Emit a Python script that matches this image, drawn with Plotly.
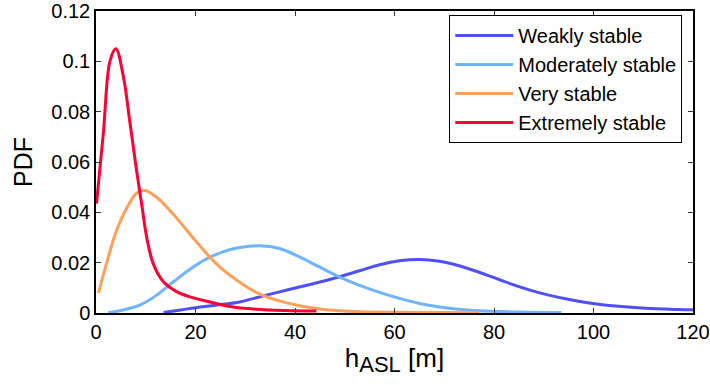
import plotly.graph_objects as go

# Probability density curves of the surface-layer height for four stability classes
weak_x = [13.6, 17, 20, 24, 28.9, 32.9, 36.9, 40.9, 45, 49, 53, 57, 61, 65, 69, 73, 77,
          81, 85, 89, 93, 97, 101, 105, 109, 113, 117, 120]
weak_y = [0.0002, 0.0012, 0.0021, 0.0031, 0.0044, 0.0064, 0.0084, 0.0103, 0.0123, 0.0144,
          0.0168, 0.0192, 0.0208, 0.0213, 0.0206, 0.0188, 0.0162, 0.0133, 0.0105, 0.0081,
          0.0062, 0.0047, 0.0035, 0.0027, 0.0021, 0.0017, 0.0014, 0.0013]

moderate_x = [2.5, 5.5, 8.8, 12.2, 15.5, 18.9, 22.2, 25.5, 28.9, 32.9, 36.9, 40.9, 45, 49,
              53, 57, 61, 65, 69, 73, 77, 85, 93.5]
moderate_y = [0.0001, 0.0012, 0.0031, 0.0071, 0.0123, 0.0174, 0.0215, 0.0243, 0.0260, 0.0267,
              0.0256, 0.0223, 0.0182, 0.0143, 0.0110, 0.0082, 0.0058, 0.0038, 0.0024, 0.0015,
              0.0009, 0.0004, 0.0002]

very_x = [0.5, 2.1, 4.1, 6.2, 8.2, 9.8, 12.2, 15.5, 18.9, 22.2, 25.5, 28.9, 32.2, 36.3,
          40.9, 45, 49, 53, 60, 70, 77]
very_y = [0.0080, 0.0195, 0.0327, 0.0418, 0.0477, 0.0487, 0.0460, 0.0393, 0.0313, 0.0237,
          0.0172, 0.0122, 0.0082, 0.0051, 0.0029, 0.0016, 0.0009, 0.0005, 0.0003, 0.0002,
          0.0001]

extreme_x = [0.1, 1.5, 2.8, 4.0, 5.5, 6.8, 8.2, 9.2, 10.2, 11.5, 13.5, 16.2, 18.9, 22.9,
             26.9, 32.2, 38, 44.3]
extreme_y = [0.0435, 0.0720, 0.1000, 0.1050, 0.0940, 0.0760, 0.0560, 0.0430, 0.0300, 0.0196,
             0.0125, 0.0085, 0.0064, 0.0044, 0.0026, 0.0015, 0.0010, 0.0008]

names = ["Weakly stable", "Moderately stable", "Very stable", "Extremely stable"]
colors = ["#5050FA", "#6EB4FF", "#FFA05A", "#FF0033"]
series = [(weak_x, weak_y), (moderate_x, moderate_y), (very_x, very_y), (extreme_x, extreme_y)]

x_ticks = [0, 20, 40, 60, 80, 100, 120]
y_ticks = [0, 0.02, 0.04, 0.06, 0.08, 0.1, 0.12]
y_ticktext = ["0", "0.02", "0.04", "0.06", "0.08", "0.1", "0.12"]

FONT = "Liberation Sans, Arial, Helvetica, sans-serif"

fig = go.Figure()
for (xs, ys), name, color in zip(series, names, colors):
    fig.add_trace(go.Scatter(
        x=xs, y=ys, name=name, mode="lines",
        line=dict(color=color, width=3, shape="spline", smoothing=1.0),
    ))

axis_common = dict(
    showline=True, linecolor="black", linewidth=1.5, mirror="ticks",
    ticks="inside", ticklen=5, tickwidth=1, tickcolor="#333333",
    showgrid=False, zeroline=False, ticklabeloverflow="allow", automargin=False,
    tickfont=dict(family=FONT, size=20, color="black"),
)

fig.update_layout(
    width=710, height=385,
    margin=dict(l=96, r=17, t=11, b=72, autoexpand=False),
    paper_bgcolor="white", plot_bgcolor="white",
    font=dict(family=FONT, color="black"),
    xaxis=dict(range=[0, 120], tickvals=x_ticks,
               title=dict(text="h<sub><span style='font-size:22px'>ASL</span></sub> [m]",
                          font=dict(size=26), standoff=2),
               **axis_common),
    yaxis=dict(range=[0, 0.12], tickvals=y_ticks, ticktext=y_ticktext,
               title=dict(text="PDF", font=dict(size=25), standoff=12),
               **axis_common),
    legend=dict(
        x=0.982, y=0.987, xanchor="right", yanchor="top",
        bgcolor="white", bordercolor="black", borderwidth=1,
        font=dict(family=FONT, size=20, color="black"),
        itemwidth=58, tracegroupgap=0,
    ),
    showlegend=True,
)

fig.write_html("out.html")
